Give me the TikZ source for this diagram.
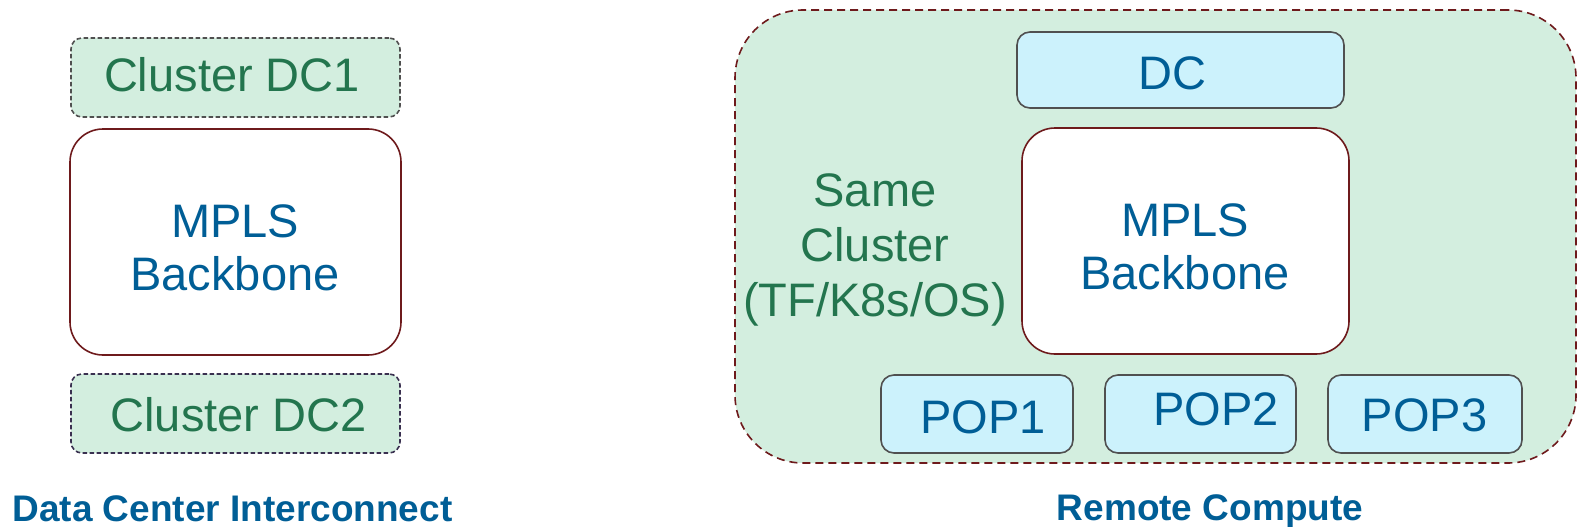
\documentclass[tikz,border=0pt]{standalone}
\usepackage{fontspec}
\setmainfont{Liberation Sans}
\definecolor{lgreen}{RGB}{211,238,223}
\definecolor{lcyan}{RGB}{204,242,252}
\definecolor{dred}{RGB}{110,26,28}
\definecolor{gborder}{RGB}{80,80,80}
\definecolor{navyborder}{RGB}{58,48,80}
\definecolor{gtext}{RGB}{35,117,78}
\definecolor{btext}{RGB}{0,94,150}
\begin{document}
\begin{tikzpicture}[x=1pt,y=-1pt,
  clusterbox/.style={draw=gborder, line width=1.6pt, dash pattern=on 4.5pt off 2.5pt, fill=lgreen, rounded corners=11pt, inner sep=0pt, outer sep=0pt},
  mplsbox/.style={draw=dred, line width=1.6pt, fill=white, rounded corners=33pt, inner sep=0pt, outer sep=0pt},
  cyanbox/.style={draw=gborder, line width=1.6pt, fill=lcyan, rounded corners=13pt, inner sep=0pt, outer sep=0pt},
  outerbox/.style={draw=dred, line width=1.6pt, dash pattern=on 8pt off 5pt, fill=lgreen, rounded corners=68pt, inner sep=0pt, outer sep=0pt},
  gtxt/.style={text=gtext, font=\fontsize{47}{55}\selectfont, inner sep=0pt, align=center},
  btxt/.style={text=btext, font=\fontsize{47}{53}\selectfont, inner sep=0pt, align=center},
  title/.style={text=btext, font=\fontsize{37}{40}\selectfont\bfseries, inner sep=0pt}
]
\useasboundingbox (0,0) rectangle (1579,527);

% Left: Data Center Interconnect
\node[clusterbox, minimum width=329pt, minimum height=79pt] (dc1) at (235.5,77.5) {};
\node[mplsbox, minimum width=331pt, minimum height=226pt] (mplsL) at (235.5,242) {};
\node[clusterbox, draw=navyborder, minimum width=329pt, minimum height=79pt] (dc2) at (235.5,413.5) {};
\node[gtxt, anchor=base] (dc1t) at (232,92) {Cluster DC1};
\node[btxt] (mplsLt) at (235,248) {MPLS\\Backbone};
\node[gtxt, anchor=base] (dc2t) at (238.5,431) {Cluster DC2};
\node[title, anchor=base] (dci) at (232.5,521) {Data Center Interconnect};

% Right: Remote Compute
\node[outerbox, minimum width=841pt, minimum height=453pt] (outer) at (1155.5,236.5) {};
\node[cyanbox, minimum width=327pt, minimum height=76pt] (dc) at (1180.5,70) {};
\node[mplsbox, minimum width=327pt, minimum height=226pt] (mplsR) at (1185.5,241) {};
\node[cyanbox, minimum width=192pt, minimum height=78pt] (pop1) at (977,414) {};
\node[cyanbox, minimum width=191pt, minimum height=78pt] (pop2) at (1200.5,414) {};
\node[cyanbox, minimum width=194pt, minimum height=78pt] (pop3) at (1425,414) {};
\node[btxt, anchor=base] (dct) at (1172,89) {DC};
\node[btxt] (mplsRt) at (1185,247) {MPLS\\Backbone};
\node[gtxt] (same) at (875,250) {Same\\Cluster\\(TF/K8s/OS)};
\node[btxt, anchor=base] (pop1t) at (983,433) {POP1};
\node[btxt, anchor=base] (pop2t) at (1216,425) {POP2};
\node[btxt, anchor=base] (pop3t) at (1424.5,431) {POP3};
\node[title, anchor=base] (rc) at (1210,520) {Remote Compute};
\end{tikzpicture}
\end{document}
